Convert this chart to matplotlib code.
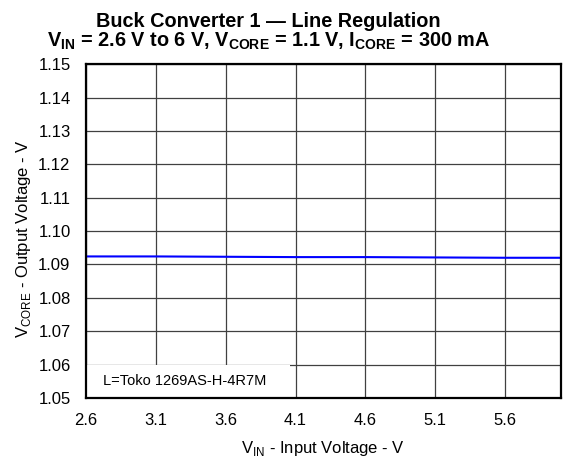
import numpy as np
import matplotlib.pyplot as plt
from matplotlib.patches import Rectangle

plt.rcParams['font.family'] = ['Liberation Sans', 'DejaVu Sans']

vin = [2.6, 3.1, 3.6, 4.1, 4.6, 5.1, 5.6, 6.0]
vcore = [1.0924, 1.0924, 1.0923, 1.0922, 1.0922, 1.0921, 1.0920, 1.0920]
xticks = [2.6, 3.1, 3.6, 4.1, 4.6, 5.1, 5.6]
yticks = [1.05, 1.06, 1.07, 1.08, 1.09, 1.10, 1.11, 1.12, 1.13, 1.14, 1.15]

fig = plt.figure(figsize=(5.65, 4.58), dpi=100)
ax = fig.add_axes([0.152, 0.131, 0.841, 0.729])

ax.plot(vin, vcore, color='#0000ff', lw=1.5, zorder=3)
ax.set_xlim(2.6, 6.0)
ax.set_ylim(1.05, 1.15)
ax.set_xticks(xticks)
ax.set_yticks(yticks)
ax.set_yticklabels(['%.2f' % t for t in yticks])
ax.tick_params(length=0, labelsize=12, pad=11)
ax.grid(True, color='#404040', lw=0.9)
for s in ax.spines.values():
    s.set_linewidth(1.6)
    s.set_zorder(5)

# white note box covering the grid in the lower left corner
ax.add_patch(Rectangle((2.6, 1.05), 1.46, 0.01, facecolor='white', edgecolor='none', zorder=4))
ax.text(2.72, 1.0552, 'L=Toko 1269AS-H-4R7M', fontsize=10.5, va='center', ha='left', zorder=4.5)

ax.set_xlabel('V$_{\\mathregular{IN}}$ - Input Voltage - V', fontsize=12, labelpad=8)
ax.set_ylabel('V$_{\\mathregular{CORE}}$ - Output Voltage - V', fontsize=12)
ax.yaxis.set_label_coords(-0.112, 0.479)

fig.text(0.475, 0.941, 'Buck Converter 1 \u2014 Line Regulation', ha='center', va='baseline',
         fontsize=14.3, fontweight='bold')
fig.text(0.475, 0.897, 'V$_{\\mathregular{IN}}$ = 2.6 V to 6 V, V$_{\\mathregular{CORE}}$ = 1.1 V, I$_{\\mathregular{CORE}}$ = 300 mA',
         ha='center', va='baseline', fontsize=14.3, fontweight='bold')

fig.savefig('out.png', dpi=100)
